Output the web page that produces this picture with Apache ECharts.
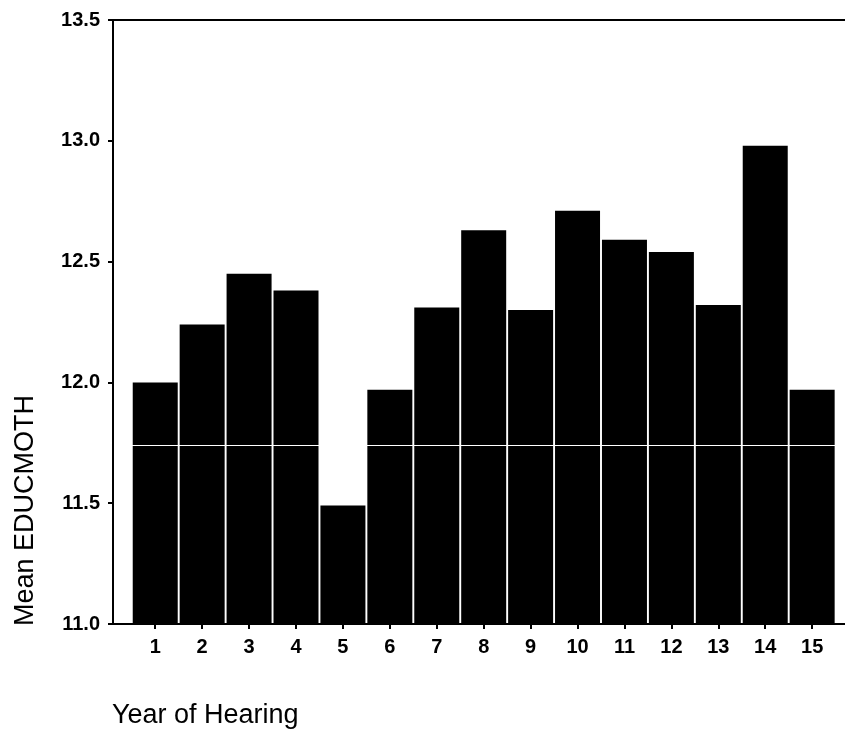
<!DOCTYPE html>
<html>
<head>
<meta charset="utf-8">
<script src="https://cdn.jsdelivr.net/npm/echarts@6/dist/echarts.min.js"></script>
<style>
html,body{margin:0;padding:0;background:#fff;}
#chart{width:845px;height:734px;}
</style>
</head>
<body>
<div id="chart"></div>
<script>
const years = [1, 2, 3, 4, 5, 6, 7, 8, 9, 10, 11, 12, 13, 14, 15];
const meanEducmoth = [12.00, 12.24, 12.45, 12.38, 11.49, 11.97, 12.31, 12.63, 12.30, 12.71, 12.59, 12.54, 12.32, 12.98, 11.97];
const yTicks = [11.0, 11.5, 12.0, 12.5, 13.0, 13.5];
const referenceLine = 11.74;
const xTitle = 'Year of Hearing';
const yTitle = 'Mean EDUCMOTH';

const font = '"Liberation Sans", Arial, sans-serif';
const chart = echarts.init(document.getElementById('chart'), null, {renderer: 'canvas'});
chart.setOption({
  backgroundColor: '#fff',
  animation: false,
  grid: {left: 113, top: 20, right: 0, bottom: 110, containLabel: false},
  xAxis: [{
    type: 'value',
    min: 0.1,
    max: 15.7,
    z: 5,
    axisLine: {show: true, lineStyle: {color: '#000', width: 2}},
    axisTick: {show: true, length: 5, customValues: years, lineStyle: {color: '#000', width: 2}},
    axisLabel: {customValues: years, color: '#000', fontFamily: font, fontWeight: 'bold', fontSize: 20, margin: 13},
    splitLine: {show: false}
  }, {
    type: 'value',
    position: 'top',
    min: 0.1,
    max: 15.7,
    z: 5,
    axisLine: {show: true, lineStyle: {color: '#000', width: 2}},
    axisTick: {show: false},
    axisLabel: {show: false},
    splitLine: {show: false}
  }],
  yAxis: {
    type: 'value',
    min: yTicks[0],
    max: yTicks[yTicks.length - 1],
    interval: 0.5,
    z: 5,
    axisLine: {show: true, lineStyle: {color: '#000', width: 2}},
    axisTick: {show: true, length: 5, lineStyle: {color: '#000', width: 2}},
    axisLabel: {color: '#000', fontFamily: font, fontWeight: 'bold', fontSize: 20, margin: 13,
      formatter: v => v.toFixed(1)},
    splitLine: {show: false}
  },
  series: [{
    type: 'bar',
    xAxisIndex: 0,
    barWidth: 45,
    z: 2,
    data: years.map((y, i) => [y, meanEducmoth[i]]),
    itemStyle: {color: '#000'},
    markLine: {
      silent: true,
      symbol: 'none',
      label: {show: false},
      lineStyle: {color: '#fff', width: 1, type: 'solid'},
      data: [{yAxis: referenceLine}]
    }
  }],
  graphic: [{
    type: 'text',
    left: 112,
    top: 702,
    style: {text: xTitle, fill: '#000', font: '27px ' + font}
  }, {
    type: 'text',
    x: 12,
    y: 626,
    rotation: Math.PI / 2,
    style: {text: yTitle, fill: '#000', font: '27px ' + font, textAlign: 'left', textVerticalAlign: 'top'}
  }]
});
</script>
</body>
</html>
